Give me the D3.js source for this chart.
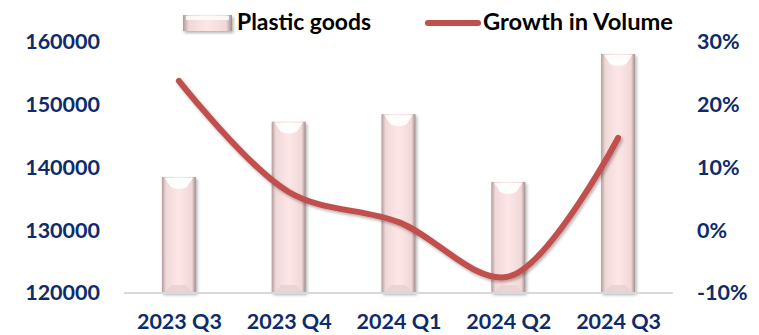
<!DOCTYPE html>
<html>
<head>
<meta charset="utf-8">
<script src="https://cdn.jsdelivr.net/npm/d3@7"></script>
<style>
  html, body { margin: 0; padding: 0; background: #fff; }
  svg { display: block; font-family: Lato, "Open Sans", sans-serif; }
</style>
</head>
<body>
<script>
const categories = ["2023 Q3", "2023 Q4", "2024 Q1", "2024 Q2", "2024 Q3"];
const plasticGoods = [138500, 147300, 148500, 137700, 158100];
const growthVolume = [0.238, 0.061, 0.013, -0.074, 0.147];
const leftTicks = [120000, 130000, 140000, 150000, 160000];
const rightTicks = [-0.1, 0, 0.1, 0.2, 0.3];

const width = 759, height = 335;
const navy = "#0e2b6b";
const lineColor = "#c0504d";

const svg = d3.select("body").append("svg")
  .attr("width", width)
  .attr("height", height)
  .attr("viewBox", [0, 0, width, height]);

const defs = svg.append("defs");
const grad = defs.append("linearGradient").attr("id", "barGrad")
  .attr("x1", 0).attr("x2", 1).attr("y1", 0).attr("y2", 0);
grad.append("stop").attr("offset", "0%").attr("stop-color", "#b09c9c");
grad.append("stop").attr("offset", "12%").attr("stop-color", "#f1d8d8");
grad.append("stop").attr("offset", "50%").attr("stop-color", "#fde7e6");
grad.append("stop").attr("offset", "88%").attr("stop-color", "#f1d8d8");
grad.append("stop").attr("offset", "100%").attr("stop-color", "#a08c8c");

const shadow = defs.append("filter").attr("id", "shadow")
  .attr("x", "-10%").attr("y", "-10%").attr("width", "130%").attr("height", "130%");
shadow.append("feDropShadow").attr("dx", 1.5).attr("dy", 2).attr("stdDeviation", 1.5)
  .attr("flood-color", "#000").attr("flood-opacity", 0.3);

const x = d3.scalePoint().domain(categories).range([124, 673]).padding(0.5);
const yLeft = d3.scaleLinear().domain([120000, 160000]).range([293, 42]);
const yRight = d3.scaleLinear().domain([-0.1, 0.3]).range([293, 42]);
const barW = 34;

// bars
const bars = svg.append("g").selectAll("g")
  .data(categories.map((c, i) => ({ c, v: plasticGoods[i] })))
  .join("g");

bars.append("rect")
  .attr("x", d => x(d.c) - barW / 2)
  .attr("y", d => yLeft(d.v))
  .attr("width", barW)
  .attr("height", d => yLeft(120000) - yLeft(d.v))
  .attr("fill", "url(#barGrad)")
  .attr("filter", "url(#shadow)");

// top bevel highlight
bars.append("path")
  .attr("d", d => {
    const x0 = x(d.c) - barW / 2 + 3, x1 = x(d.c) + barW / 2 - 3, y0 = yLeft(d.v) + 1;
    return `M${x0},${y0} L${x1},${y0} L${x1 - 6},${y0 + 9} Q${x(d.c)},${y0 + 13} ${x0 + 6},${y0 + 9} Z`;
  })
  .attr("fill", "#ffffff")
  .attr("opacity", 0.95);

// bottom bevel
bars.append("path")
  .attr("d", d => {
    const x0 = x(d.c) - barW / 2 + 3, x1 = x(d.c) + barW / 2 - 3, y0 = yLeft(120000) - 1;
    return `M${x0},${y0} L${x1},${y0} L${x1 - 7},${y0 - 7} L${x0 + 7},${y0 - 7} Z`;
  })
  .attr("fill", "#e8cfcf")
  .attr("opacity", 0.8);

// baseline
svg.append("line")
  .attr("x1", 124).attr("x2", 673)
  .attr("y1", yLeft(120000)).attr("y2", yLeft(120000))
  .attr("stroke", "#d9d9d9").attr("stroke-width", 2);

// growth line
const line = d3.line()
  .x((d, i) => x(categories[i]))
  .y(d => yRight(d))
  .curve(d3.curveCatmullRom.alpha(0.5));

svg.append("path")
  .datum(growthVolume)
  .attr("d", line)
  .attr("fill", "none")
  .attr("stroke", lineColor)
  .attr("stroke-width", 6)
  .attr("stroke-linecap", "round")
  .attr("filter", "url(#shadow)");

// left axis
const leftAxis = svg.append("g")
  .attr("transform", "translate(100,0)")
  .call(d3.axisLeft(yLeft).tickValues(leftTicks).tickSize(0).tickPadding(0).tickFormat(d3.format("d")));
leftAxis.select(".domain").remove();
leftAxis.selectAll("text")
  .attr("fill", navy).attr("font-size", 21.5).attr("font-weight", 700)
  .attr("font-family", "Lato, sans-serif");

// right axis
const pct = d => Math.round(d * 100) + "%";
const rightAxis = svg.append("g")
  .attr("transform", "translate(697,0)")
  .call(d3.axisRight(yRight).tickValues(rightTicks).tickSize(0).tickPadding(0).tickFormat(pct));
rightAxis.select(".domain").remove();
rightAxis.selectAll("text")
  .attr("fill", navy).attr("font-size", 21.5).attr("font-weight", 700)
  .attr("font-family", "Lato, sans-serif");

// bottom axis
const bottomAxis = svg.append("g")
  .attr("transform", "translate(0,309)")
  .call(d3.axisBottom(x).tickSize(0).tickPadding(0));
bottomAxis.select(".domain").remove();
bottomAxis.selectAll("text")
  .attr("fill", navy).attr("font-size", 21.5).attr("font-weight", 700)
  .attr("font-family", "Lato, sans-serif")
  .attr("dy", "0.95em");

// legend
const legend = svg.append("g");
legend.append("rect")
  .attr("x", 183).attr("y", 15).attr("width", 49).attr("height", 16)
  .attr("fill", "url(#barGrad)").attr("filter", "url(#shadow)");
legend.append("rect")
  .attr("x", 186).attr("y", 16).attr("width", 43).attr("height", 4)
  .attr("fill", "#fff").attr("opacity", 0.8);
legend.append("text")
  .attr("x", 237).attr("y", 30)
  .attr("font-size", 22).attr("font-weight", 700).attr("fill", "#000")
  .attr("textLength", 134).attr("lengthAdjust", "spacingAndGlyphs")
  .text("Plastic goods");
legend.append("line")
  .attr("x1", 428).attr("x2", 478).attr("y1", 23).attr("y2", 23)
  .attr("stroke", lineColor).attr("stroke-width", 6).attr("stroke-linecap", "round");
legend.append("text")
  .attr("x", 483).attr("y", 30)
  .attr("font-size", 22).attr("font-weight", 700).attr("fill", "#000")
  .attr("textLength", 190).attr("lengthAdjust", "spacingAndGlyphs")
  .text("Growth in Volume");
</script>
</body>
</html>
